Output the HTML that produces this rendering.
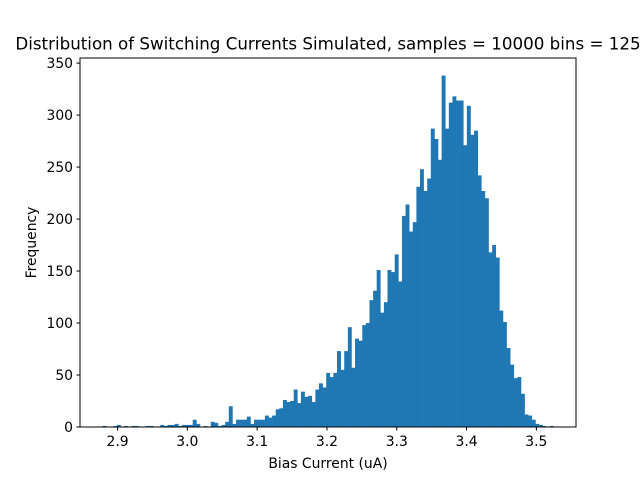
<!DOCTYPE html>
<html><head><meta charset="utf-8"><style>body{margin:0;background:#fff}svg{display:block}text{font-family:"DejaVu Sans","Liberation Sans",sans-serif;fill:#000}</style></head>
<body>
<svg id="chart" width="640" height="480" xmlns="http://www.w3.org/2000/svg">
<rect width="640" height="480" fill="#fff"/>
<text x="328" y="49.5" font-size="16.7" text-anchor="middle">Distribution of Switching Currents Simulated, samples = 10000 bins = 125</text>
<g id="bars"></g>
<rect x="80" y="58" width="496" height="369" fill="none" stroke="#000" stroke-width="1"/>
<g id="xt"></g>
<g id="yt"></g>
<text x="328" y="468" font-size="13.9" text-anchor="middle">Bias Current (uA)</text>
<text transform="translate(36,242.5) rotate(-90)" font-size="13.9" text-anchor="middle">Frequency</text>
</svg>
<script>
const binStart = 2.8785;
const binEnd = 3.5245;
const counts = [1,0,0,1,2,0,1,0,1,1,0,0,1,1,0,0,2,1,2,2,3,1,2,2,2,7,3,0,1,0,5,4,1,2,5,20,3,7,7,7,10,3,7,7,7,11,9,11,
17,18,26,24,25,36,23,34,29,30,24,36,42,38,52,48,52,73,55,73,96,57,85,83,98,100,122,131,151,110,120,151,
149,166,140,203,214,188,197,231,248,227,239,287,277,257,338,287,312,318,314,314,271,309,281,285,242,227,220,168,175,163,112,101,76,60,47,48,32,12,11,7,3,2,1,0,1];
const xTicks = [2.9,3.0,3.1,3.2,3.3,3.4,3.5];
const xTickLabels = ["2.9","3.0","3.1","3.2","3.3","3.4","3.5"];
const yTicks = [0,50,100,150,200,250,300,350];
const yTickLabels = ["0","50","100","150","200","250","300","350"];

const NS="http://www.w3.org/2000/svg";
const span=binEnd-binStart;
const xmin=binStart-0.05*span, xmax=binEnd+0.05*span;
const ymax=Math.max(...counts)*1.05;
const X=v=>80+(v-xmin)/(xmax-xmin)*496;
const Y=v=>427-v/ymax*369;
const bw=span/counts.length;
const bars=document.getElementById('bars');
counts.forEach((c,i)=>{
  const r=document.createElementNS(NS,'rect');
  const x0=X(binStart+i*bw), x1=X(binStart+(i+1)*bw);
  r.setAttribute('x',x0);r.setAttribute('width',x1-x0+0.3);
  r.setAttribute('y',Y(c));r.setAttribute('height',427-Y(c));
  r.setAttribute('fill','#1f77b4');
  
  
  bars.appendChild(r);
});
const xt=document.getElementById('xt');
xTicks.forEach((t,i)=>{
  const l=document.createElementNS(NS,'line');
  l.setAttribute('x1',X(t));l.setAttribute('x2',X(t));l.setAttribute('y1',427);l.setAttribute('y2',430.5);l.setAttribute('stroke','#000');
  
  
  xt.appendChild(l);
  const s=document.createElementNS(NS,'text');
  s.setAttribute('x',X(t));s.setAttribute('y',446);s.setAttribute('font-size','13.9');s.setAttribute('text-anchor','middle');
  s.textContent=xTickLabels[i];
  
  
  xt.appendChild(s);
});
const yt=document.getElementById('yt');
yTicks.forEach((t,i)=>{
  const l=document.createElementNS(NS,'line');
  l.setAttribute('x1',76.5);l.setAttribute('x2',80);l.setAttribute('y1',Y(t));l.setAttribute('y2',Y(t));l.setAttribute('stroke','#000');
  
  
  yt.appendChild(l);
  const s=document.createElementNS(NS,'text');
  s.setAttribute('x',73);s.setAttribute('y',Y(t)+5);s.setAttribute('font-size','13.9');s.setAttribute('text-anchor','end');
  s.textContent=yTickLabels[i];
  
  
  yt.appendChild(s);
});
</script>
</body></html>
